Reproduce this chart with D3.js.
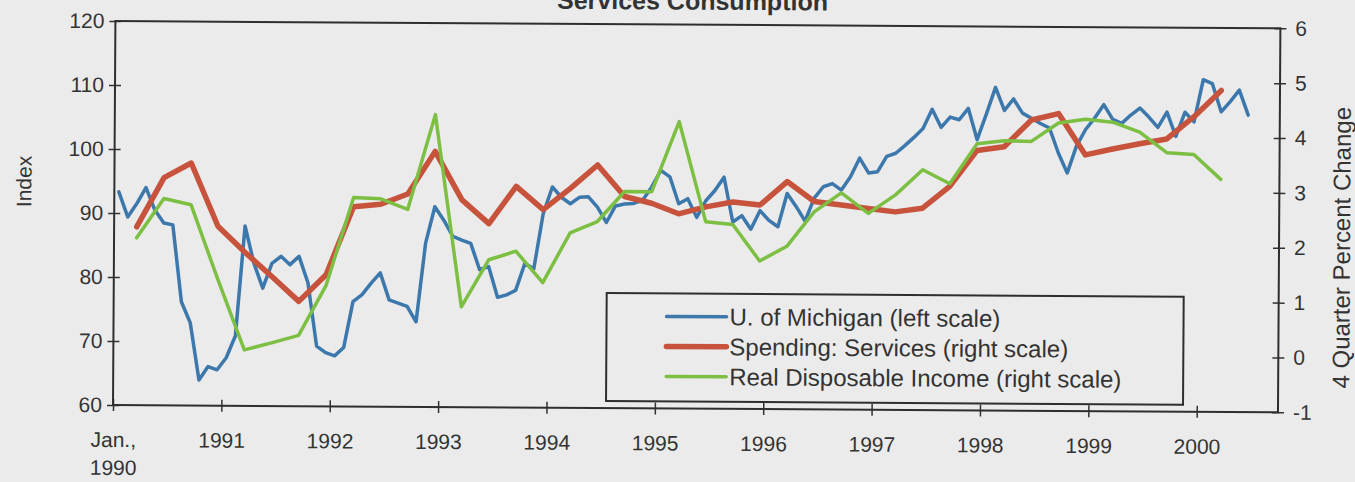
<!DOCTYPE html>
<html>
<head>
	<meta charset="utf-8">
	<title>Services Consumption</title>
	<style type="text/css">
		body {
			margin: 0;
			background: #ebebeb;
		}

		svg {
			display: block;
			font-family: "Liberation Sans", Arial, sans-serif;
		}

		.tick line {
			stroke: #333;
			stroke-width: 1.5;
		}

		.tick text {
			fill: #333;
			font-size: 21px;
		}

		.domain {
			display: none;
		}

		.series {
			fill: none;
			stroke-linejoin: round;
			stroke-linecap: round;
		}
	</style>
</head>
<body>

<svg id="chart"></svg>

<script type="text/javascript" src="https://d3js.org/d3.v7.min.js"></script>
<script type="text/javascript">

	// U. of Michigan sentiment, monthly from Jan. 1990
	var michigan = [
		93.3, 89.4, 91.5, 94.0, 90.5, 88.5, 88.2, 76.2, 72.9, 64.0, 66.1, 65.6,
		67.5, 70.9, 88.1, 82.3, 78.4, 82.3, 83.4, 82.1, 83.4, 79.3, 69.4, 68.4,
		67.9, 69.2, 76.4, 77.5, 79.3, 80.9, 76.7, 76.2, 75.7, 73.3, 85.6, 91.3,
		89.2, 86.7, 86.1, 85.6, 81.5, 82.0, 77.2, 77.6, 78.3, 82.5, 81.7, 90.3,
		94.5, 92.9, 91.9, 92.9, 93.0, 91.4, 89.0, 91.6, 91.9, 92.0, 92.5, 94.6,
		97.2, 96.2, 92.0, 92.8, 89.9, 92.5, 94.1, 96.2, 89.2, 90.2, 88.1, 91.0,
		89.5, 88.5, 93.7, 91.7, 89.4, 93.0, 94.8, 95.3, 94.3, 96.4, 99.3, 97.0,
		97.2, 99.6, 100.1, 101.3, 102.6, 104.0, 107.0, 104.2, 105.8, 105.4, 107.2, 102.3,
		106.3, 110.5, 106.9, 108.7, 106.5, 105.7, 104.9, 104.2, 100.3, 97.2, 101.4, 104.0,
		105.8, 107.9, 105.6, 105.0, 106.3, 107.4, 106.0, 104.4, 106.8, 103.0, 106.8, 105.3,
		111.9, 111.3, 106.9, 108.5, 110.3, 106.4
	];

	// 4 quarter percent change, one value per quarter (Q1 1990 on)
	var services = [
		2.25, 3.15, 3.42, 2.27, 1.80, 1.36, 0.91, 1.40, 2.64, 2.69, 2.88, 3.66,
		2.78, 2.35, 3.03, 2.61, 3.00, 3.43, 2.86, 2.74, 2.55, 2.68, 2.77, 2.72,
		3.15, 2.79, 2.73, 2.67, 2.61, 2.68, 3.08, 3.74, 3.81, 4.30, 4.42, 3.67,
		3.78, 3.88, 3.97, 4.38, 4.86
	];

	var income = [
		2.05, 2.77, 2.66, 1.31, 0.02, 0.15, 0.29, 1.20, 2.81, 2.79, 2.60, 4.33,
		0.83, 1.69, 1.85, 1.28, 2.19, 2.40, 2.95, 2.95, 4.23, 2.41, 2.36, 1.70,
		1.97, 2.60, 2.95, 2.58, 2.92, 3.38, 3.13, 3.86, 3.92, 3.91, 4.25, 4.32,
		4.27, 4.09, 3.72, 3.69, 3.24
	];

	var yearLabels = [["Jan.,", "1990"], ["1991"], ["1992"], ["1993"], ["1994"], ["1995"],
		["1996"], ["1997"], ["1998"], ["1999"], ["2000"]];
	var leftTicks = [60, 70, 80, 90, 100, 110, 120];
	var rightTicks = [-1, 0, 1, 2, 3, 4, 5, 6];
	var legendNames = ["U. of Michigan (left scale)", "Spending: Services (right scale)",
		"Real Disposable Income (right scale)"];
	var colors = ["#3c78ab", "#c7533d", "#7cbf43"];

	var width = 1355,
		height = 482,
		margin = {top: 21, right: 77, bottom: 77, left: 113},
		nMonths = 129;

	var svg = d3.select("#chart")
		.attr("width", width)
		.attr("height", height);

	svg.append("rect")
		.attr("width", width)
		.attr("height", height)
		.attr("fill", "#ebebeb");

	// the scanned page is slightly tilted
	var vis = svg.append("g")
		.attr("transform", "rotate(0.36," + margin.left + "," + (height - margin.bottom) + ")");

	var x = d3.scaleLinear()
		.domain([-0.5, nMonths - 0.5])
		.range([margin.left, width - margin.right]);

	var yLeft = d3.scaleLinear()
		.domain([60, 120])
		.range([height - margin.bottom, margin.top]);

	var yRight = d3.scaleLinear()
		.domain([-1, 6])
		.range([height - margin.bottom, margin.top]);

	vis.append("text")
		.attr("x", 690)
		.attr("y", 6)
		.attr("text-anchor", "middle")
		.style("font-size", "25px")
		.style("font-weight", "bold")
		.style("fill", "#333")
		.text("Services Consumption");

	// axes, ticks cross the frame line
	vis.append("g")
		.attr("transform", "translate(" + (margin.left + 6) + ",0)")
		.call(d3.axisLeft(yLeft).tickValues(leftTicks).tickSize(12).tickPadding(5));

	vis.append("g")
		.attr("transform", "translate(" + (width - margin.right - 6) + ",0)")
		.call(d3.axisRight(yRight).tickValues(rightTicks).tickSize(12).tickPadding(9)
			.tickFormat(d => String(d)));

	var yearTicks = yearLabels.map((d, i) => i * 12 - 0.5);

	var xAxis = vis.append("g")
		.attr("transform", "translate(0," + (height - margin.bottom - 6) + ")")
		.call(d3.axisBottom(x).tickValues(yearTicks).tickSize(12).tickFormat(""));

	xAxis.selectAll(".tick text").remove();
	xAxis.selectAll(".tick").data(yearLabels)
		.append("text")
		.attr("y", 48)
		.selectAll("tspan")
		.data(d => d)
		.enter().append("tspan")
		.attr("x", 0)
		.attr("dy", (d, i) => i ? 28 : 0)
		.text(d => d);

	vis.append("rect")
		.attr("x", margin.left)
		.attr("y", margin.top)
		.attr("width", width - margin.left - margin.right)
		.attr("height", height - margin.top - margin.bottom)
		.attr("fill", "none")
		.attr("stroke", "#2e2e2e")
		.attr("stroke-width", 2);

	vis.append("text")
		.attr("transform", "translate(30,182) rotate(-90)")
		.attr("text-anchor", "middle")
		.style("font-size", "21px")
		.style("fill", "#333")
		.text("Index");

	vis.append("text")
		.attr("transform", "translate(1349,240) rotate(-90)")
		.attr("text-anchor", "middle")
		.style("font-size", "24px")
		.style("fill", "#333")
		.text("4 Quarter Percent Change");

	// series
	var line = d3.line()
		.x(d => x(d.m))
		.y(d => d.y);

	var blueData = michigan.map((v, i) => ({m: i, y: yLeft(v)}));
	var redData = services.map((v, i) => ({m: 2 + i * 3, y: yRight(v)}));
	var greenData = income.map((v, i) => ({m: 2 + i * 3, y: yRight(v)}));

	vis.append("path").attr("class", "series")
		.attr("d", line(blueData))
		.attr("stroke", colors[0])
		.attr("stroke-width", 3.5);

	vis.append("path").attr("class", "series")
		.attr("d", line(redData))
		.attr("stroke", colors[1])
		.attr("stroke-width", 5.5);

	vis.append("path").attr("class", "series")
		.attr("d", line(greenData))
		.attr("stroke", colors[2])
		.attr("stroke-width", 3.5);

	// legend
	var legend = vis.append("g")
		.attr("transform", "translate(606,290)");

	legend.append("rect")
		.attr("width", 577)
		.attr("height", 108)
		.attr("fill", "#ebebeb")
		.attr("stroke", "#2e2e2e")
		.attr("stroke-width", 2);

	var entry = legend.selectAll(".entry")
		.data(legendNames)
		.enter().append("g")
		.attr("class", "entry")
		.attr("transform", (d, i) => "translate(0," + (23 + i * 30) + ")");

	entry.append("line")
		.attr("x1", 60)
		.attr("x2", 120)
		.attr("stroke", (d, i) => colors[i])
		.attr("stroke-width", (d, i) => i == 1 ? 5.5 : 3.5)
		.attr("stroke-linecap", "round");

	entry.append("text")
		.attr("x", 123)
		.attr("dy", "0.35em")
		.style("font-size", "24px")
		.style("fill", "#333")
		.text(d => d);

</script>
</body>
</html>
